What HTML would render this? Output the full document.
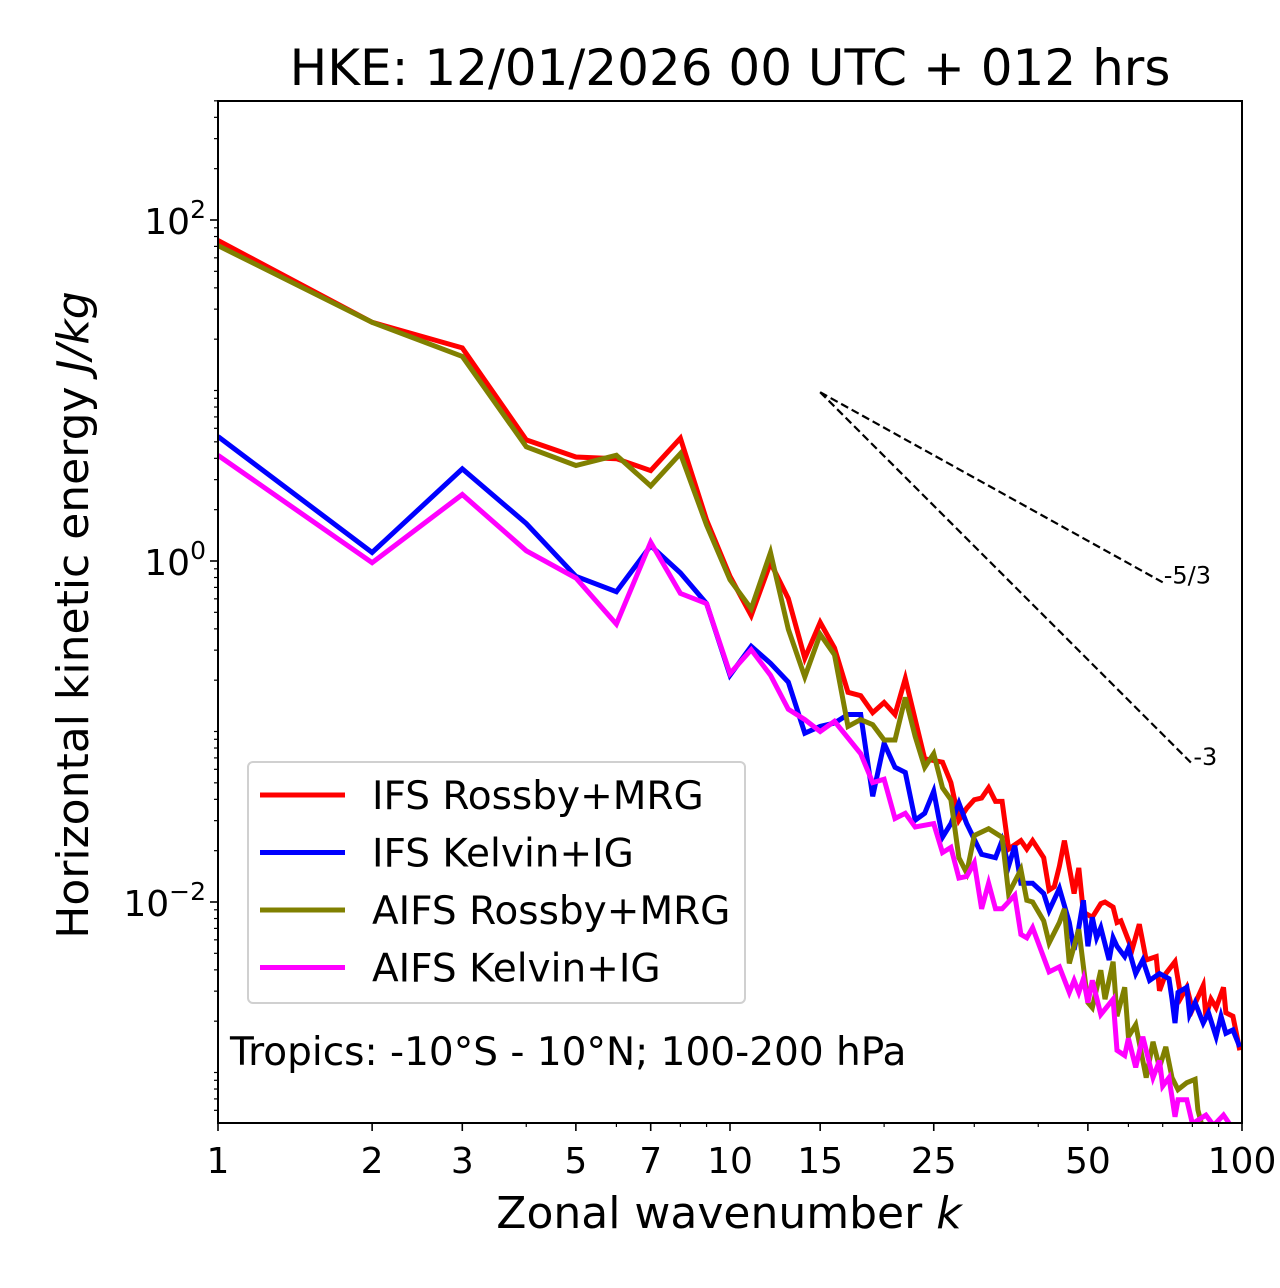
<!DOCTYPE html>
<html><head><meta charset="utf-8"><style>
html,body{margin:0;padding:0;background:#fff}
svg{display:block;font-family:"DejaVu Sans","Liberation Sans",sans-serif}
</style></head><body>
<svg id="chart" width="1280" height="1288" viewBox="0 0 1280 1288" xmlns="http://www.w3.org/2000/svg"></svg>
<script>
// data: wavenumbers and log10 of energy (J/kg)
const redK=[1,2,3,4,5,6,7,8,9,10,11,12,13,14,15,16,17,18,19,20,21,22,23,24,26,27,28,29,30,31,32,33,34,35,37,38,39,41,42,43,44,45,47,48,49,51,53,54,56,57,58,61,63,65,68,69,71,74,76,78,80,84,85,87,89,92,93,96,99];
const redLog=[1.88,1.40,1.25,0.71,0.61,0.60,0.53,0.72,0.24,-0.09,-0.32,-0.01,-0.22,-0.57,-0.36,-0.51,-0.77,-0.79,-0.89,-0.83,-0.90,-0.69,-0.93,-1.16,-1.18,-1.30,-1.52,-1.45,-1.40,-1.39,-1.33,-1.41,-1.41,-1.69,-1.64,-1.69,-1.64,-1.74,-1.93,-1.91,-1.79,-1.64,-1.95,-1.80,-2.06,-2.09,-2.01,-2.00,-2.03,-2.12,-2.11,-2.28,-2.13,-2.34,-2.32,-2.52,-2.42,-2.35,-2.56,-2.50,-2.63,-2.49,-2.67,-2.57,-2.62,-2.50,-2.65,-2.67,-2.87];
const blueK=[1,2,3,4,5,6,7,8,9,10,11,12,13,14,15,16,17,18,19,20,21,22,23,24,25,26,27,28,29,31,33,34,35,36,37,39,41,42,44,46,47,48,49,50,51,52,53,55,56,57,59,60,62,64,66,69,72,73,74,75,78,79,81,84,86,89,91,93,96,99];
const blueLog=[0.73,0.05,0.54,0.22,-0.09,-0.18,0.09,-0.07,-0.25,-0.67,-0.50,-0.60,-0.71,-1.01,-0.97,-0.95,-0.90,-0.90,-1.38,-1.07,-1.21,-1.24,-1.52,-1.48,-1.35,-1.62,-1.54,-1.42,-1.54,-1.72,-1.74,-1.64,-1.79,-1.67,-1.89,-1.89,-1.95,-2.05,-1.92,-2.12,-2.28,-2.15,-1.99,-2.26,-2.09,-2.21,-2.15,-2.34,-2.21,-2.26,-2.32,-2.27,-2.42,-2.34,-2.46,-2.42,-2.45,-2.57,-2.71,-2.53,-2.50,-2.66,-2.59,-2.71,-2.65,-2.79,-2.67,-2.77,-2.75,-2.85];
const oliveK=[1,2,3,4,5,6,7,8,9,10,11,12,13,14,15,16,17,18,19,20,21,22,23,24,25,26,27,28,29,30,32,34,35,37,38,39,41,42,44,45,46,48,50,51,53,54,56,57,59,60,62,65,67,69,71,73,75,78,81,82,84];
const oliveLog=[1.85,1.40,1.20,0.67,0.56,0.62,0.44,0.63,0.21,-0.11,-0.28,0.05,-0.40,-0.68,-0.43,-0.55,-0.97,-0.93,-0.96,-1.05,-1.05,-0.80,-1.03,-1.21,-1.13,-1.33,-1.40,-1.74,-1.83,-1.61,-1.57,-1.62,-1.95,-1.81,-1.99,-2.00,-2.11,-2.24,-2.12,-2.04,-2.36,-2.16,-2.59,-2.62,-2.40,-2.57,-2.35,-2.67,-2.50,-2.79,-2.72,-3.03,-2.82,-2.97,-2.85,-3.03,-3.10,-3.06,-3.04,-3.22,-3.34];
const magK=[1,2,3,4,5,6,7,8,9,10,11,12,13,14,15,16,18,19,20,21,22,23,25,26,27,28,29,30,31,32,33,34,36,37,38,39,42,44,46,47,48,49,50,51,53,56,57,59,60,62,64,67,69,70,72,74,75,78,80,85,88,92,95];
const magLog=[0.62,-0.01,0.39,0.06,-0.10,-0.37,0.11,-0.19,-0.25,-0.66,-0.52,-0.67,-0.87,-0.93,-1.00,-0.94,-1.13,-1.30,-1.28,-1.51,-1.48,-1.56,-1.54,-1.71,-1.68,-1.86,-1.85,-1.77,-2.04,-1.89,-2.04,-2.04,-1.96,-2.19,-2.21,-2.15,-2.41,-2.38,-2.53,-2.46,-2.53,-2.45,-2.59,-2.46,-2.66,-2.57,-2.87,-2.90,-2.80,-2.97,-2.79,-3.03,-2.93,-3.08,-3.03,-3.26,-3.16,-3.16,-3.30,-3.25,-3.31,-3.25,-3.31];
const seriesNames=["IFS Rossby+MRG","IFS Kelvin+IG","AIFS Rossby+MRG","AIFS Kelvin+IG"];
const seriesColors=["#ff0000","#0000ff","#808000","#ff00ff"];
const xTickLabels=[1,2,3,5,7,10,15,25,50,100];
const xMinorTicks=[4,6,8,9,20,30,40,60,70,80,90];
const yTickExps=[2,0,-2];
const slopeRefs=[-5/3,-3];
const slopeEnds=[70,80];
const slopeLabels=["-5/3","-3"];

const L=218,R=1242,T=101,B=1123;
const xs=k=>L+(R-L)*Math.log10(k)/2;
const yl=e=>561-170.5*e;
const NS="http://www.w3.org/2000/svg";
const svg=document.getElementById('chart');
function mk(tag,attrs,parent){const el=document.createElementNS(NS,tag);for(const a in attrs)el.setAttribute(a,attrs[a]);(parent||svg).appendChild(el);return el;}

const defs=mk('defs',{});
const cp=mk('clipPath',{id:'plotclip'},defs);
mk('rect',{x:L,y:T,width:R-L,height:B-T},cp);

const title=mk('text',{x:730,y:85,'font-size':50,'text-anchor':'middle'});


title.textContent='HKE: 12/01/2026 00 UTC + 012 hrs';

const allK=[redK,blueK,oliveK,magK], allL=[redLog,blueLog,oliveLog,magLog];
const lineNames=['line-ifs-rossby-mrg','line-ifs-kelvin-ig','line-aifs-rossby-mrg','line-aifs-kelvin-ig'];
const g=mk('g',{'clip-path':'url(#plotclip)'});
for(let s=0;s<4;s++){
  const pts=allK[s].map((k,i)=>xs(k).toFixed(1)+','+yl(allL[s][i]).toFixed(1)).join(' ');
  const pl=mk('polyline',{points:pts,fill:'none',stroke:seriesColors[s],'stroke-width':5,'stroke-linejoin':'miter'},g);
  
  
}
const k0=15,e0=0.99;
for(let i=0;i<2;i++){
  const e1=e0+slopeRefs[i]*Math.log10(slopeEnds[i]/k0);
  const ln=mk('line',{x1:xs(k0),y1:yl(e0),x2:xs(slopeEnds[i]),y2:yl(e1),stroke:'#000','stroke-width':2.2,'stroke-dasharray':'8,4'});
  
  
  const t=mk('text',{x:xs(slopeEnds[i])+1,y:yl(e1)+1,'font-size':24});
  
  
  t.textContent=slopeLabels[i];
}

const fr=mk('rect',{x:L,y:T,width:R-L,height:B-T,fill:'none',stroke:'#000','stroke-width':2});



xTickLabels.forEach(k=>{
  mk('line',{x1:xs(k),y1:B,x2:xs(k),y2:B+8,stroke:'#000','stroke-width':1.6});
  const t=mk('text',{x:xs(k),y:B+50,'font-size':36,'text-anchor':'middle'});
  
  
  t.textContent=k;
});
xMinorTicks.forEach(k=>mk('line',{x1:xs(k),y1:B,x2:xs(k),y2:B+4,stroke:'#000','stroke-width':1.2}));
for(let e=-4;e<=3;e++){
  for(let m=1;m<10;m++){
    const v=e+Math.log10(m);const y=yl(v);
    if(y<T-0.5||y>B+0.5)continue;
    const major=(m===1&&e%2===0);
    mk('line',{x1:L,y1:y,x2:L-(major?8:4),y2:y,stroke:'#000','stroke-width':major?1.6:1.2});
  }
}
yTickExps.forEach(e=>{
  const t=mk('text',{x:L-12,y:yl(e)+14,'font-size':36,'text-anchor':'end'});
  
  
  t.appendChild(document.createTextNode('10'));
  const sp=mk('tspan',{dy:-16,'font-size':25},t);sp.textContent=(e<0?'\u2212':'')+Math.abs(e);
});

const xt=mk('text',{x:729,y:1228,'font-size':44,'text-anchor':'middle'});


xt.appendChild(document.createTextNode('Zonal wavenumber '));
const ki=mk('tspan',{'font-style':'italic'},xt);ki.textContent='k';
const yt=mk('text',{x:0,y:0,'font-size':44,'text-anchor':'middle',transform:'translate(88,615) rotate(-90)'});


yt.appendChild(document.createTextNode('Horizontal kinetic energy '));
const ji=mk('tspan',{'font-style':'italic'},yt);ji.textContent='J/kg';

const lg=mk('g',{});


mk('rect',{x:248,y:762,width:497,height:241,rx:5,fill:'#fff','fill-opacity':0.8,stroke:'#d0d0d0','stroke-width':2},lg);
for(let s=0;s<4;s++){
  const y=795+s*57.5;
  const e=mk('g',{},lg);
  
  
  mk('line',{x1:260,y1:y,x2:345,y2:y,stroke:seriesColors[s],'stroke-width':5},e);
  const t=mk('text',{x:372,y:y+14,'font-size':39},e);t.textContent=seriesNames[s];
}
const an=mk('text',{x:230,y:1065,'font-size':39});


an.textContent='Tropics: -10\u00B0S - 10\u00B0N; 100-200 hPa';
</script>
</body></html>
